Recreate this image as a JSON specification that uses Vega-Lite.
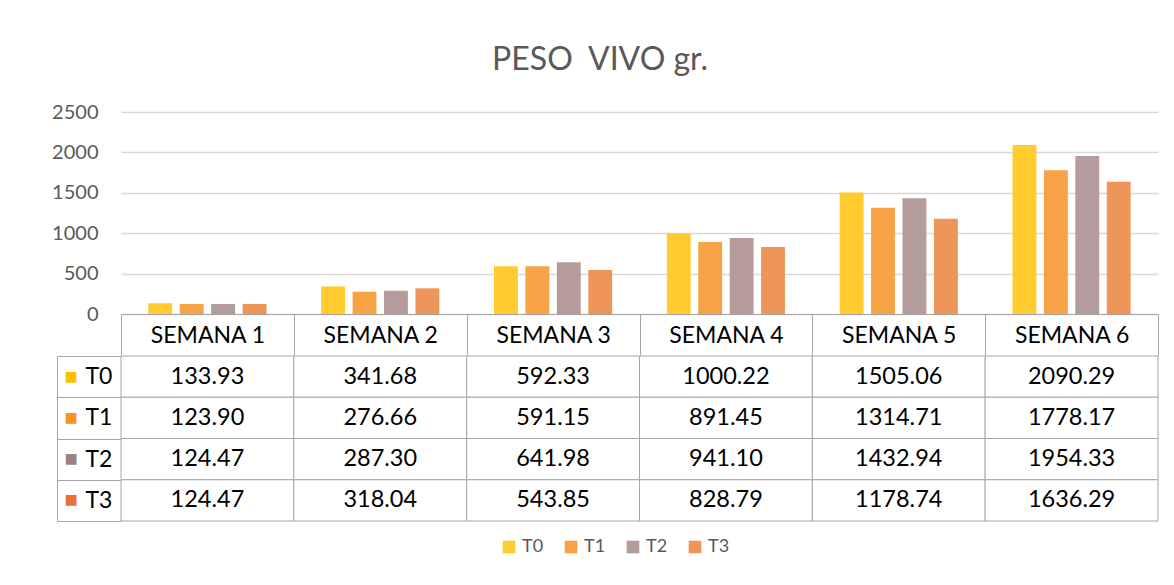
{
  "$schema": "https://vega.github.io/schema/vega-lite/v6.json",
  "padding": {"left": 51, "top": 44, "right": 17, "bottom": 10},
  "background": "white",
  "title": {"text": "PESO\u00a0 VIVO gr.", "fontSize": 32, "font": "Lato", "fontWeight": "normal", "color": "#595959", "anchor": "middle", "offset": 25, "dx": -5},
  "data": {"values": [
    {"semana": "SEMANA 1", "trat": "T0", "peso": 133.93},
    {"semana": "SEMANA 2", "trat": "T0", "peso": 341.68},
    {"semana": "SEMANA 3", "trat": "T0", "peso": 592.33},
    {"semana": "SEMANA 4", "trat": "T0", "peso": 1000.22},
    {"semana": "SEMANA 5", "trat": "T0", "peso": 1505.06},
    {"semana": "SEMANA 6", "trat": "T0", "peso": 2090.29},
    {"semana": "SEMANA 1", "trat": "T1", "peso": 123.90},
    {"semana": "SEMANA 2", "trat": "T1", "peso": 276.66},
    {"semana": "SEMANA 3", "trat": "T1", "peso": 591.15},
    {"semana": "SEMANA 4", "trat": "T1", "peso": 891.45},
    {"semana": "SEMANA 5", "trat": "T1", "peso": 1314.71},
    {"semana": "SEMANA 6", "trat": "T1", "peso": 1778.17},
    {"semana": "SEMANA 1", "trat": "T2", "peso": 124.47},
    {"semana": "SEMANA 2", "trat": "T2", "peso": 287.30},
    {"semana": "SEMANA 3", "trat": "T2", "peso": 641.98},
    {"semana": "SEMANA 4", "trat": "T2", "peso": 941.10},
    {"semana": "SEMANA 5", "trat": "T2", "peso": 1432.94},
    {"semana": "SEMANA 6", "trat": "T2", "peso": 1954.33},
    {"semana": "SEMANA 1", "trat": "T3", "peso": 124.47},
    {"semana": "SEMANA 2", "trat": "T3", "peso": 318.04},
    {"semana": "SEMANA 3", "trat": "T3", "peso": 543.85},
    {"semana": "SEMANA 4", "trat": "T3", "peso": 828.79},
    {"semana": "SEMANA 5", "trat": "T3", "peso": 1178.74},
    {"semana": "SEMANA 6", "trat": "T3", "peso": 1636.29}
  ]},
  "spacing": -12,
  "vconcat": [
    {
      "width": 1037,
      "height": 202,
      "mark": {"type": "bar"},
      "encoding": {
        "x": {
          "field": "semana", "type": "nominal",
          "scale": {"paddingInner": 0, "paddingOuter": 0},
          "axis": {"orient": "bottom", "title": null, "domainColor": "#a6a6a6", "tickColor": "#a6a6a6", "tickSize": 41, "tickBand": "extent", "labelFontSize": 23, "labelColor": "black", "labelPadding": -20, "labelBaseline": "middle", "labelAngle": 0}
        },
        "xOffset": {"field": "trat", "type": "nominal", "scale": {"paddingInner": 0.24, "paddingOuter": 0.87}},
        "y": {
          "field": "peso", "type": "quantitative",
          "scale": {"domain": [0, 2500]},
          "axis": {"title": null, "values": [0, 500, 1000, 1500, 2000, 2500], "format": "d", "domain": false, "ticks": false, "gridColor": "#d9d9d9", "gridWidth": 1.3, "labelFontSize": 20, "labelColor": "#595959", "labelPadding": 23}
        },
        "color": {
          "field": "trat", "type": "nominal",
          "scale": {"domain": ["T0", "T1", "T2", "T3"], "range": ["#FFCB2E", "#F8A246", "#B49C9C", "#EE965A"]},
          "legend": {"orient": "none", "legendX": 379, "legendY": 426, "direction": "horizontal", "title": null, "symbolType": "square", "symbolSize": 160, "labelFontSize": 18, "labelColor": "#595959", "columnPadding": 18, "symbolStrokeWidth": 0}
        }
      }
    },
    {
      "width": 1037,
      "height": 165,
      "encoding": {
        "x": {"field": "semana", "type": "nominal", "scale": {"paddingInner": 0, "paddingOuter": 0}, "axis": null}
      },
      "layer": [
        {
          "mark": {"type": "rect", "fill": "white", "stroke": "#a6a6a6", "strokeWidth": 1},
          "encoding": {
            "y": {
              "field": "trat", "type": "nominal",
              "scale": {"paddingInner": 0, "paddingOuter": 0},
              "axis": {"orient": "left", "title": null, "offset": 64, "tickSize": -64, "tickBand": "extent", "domainColor": "#a6a6a6", "tickColor": "#a6a6a6", "labelFontSize": 23, "labelColor": "black", "labelAlign": "left", "labelPadding": 36, "grid": false}
            }
          }
        },
        {
          "mark": {"type": "text", "fontSize": 23.5, "color": "black"},
          "encoding": {
            "y": {
              "field": "trat", "type": "nominal",
              "scale": {"paddingInner": 0, "paddingOuter": 0},
              "axis": {"orient": "left", "title": null, "offset": 64, "domain": false, "ticks": false, "grid": false, "labelExpr": "'■'", "labelFontSize": 22, "labelAlign": "left", "labelPadding": -7, "labelColor": {"condition": [{"test": "datum.value == 'T0'", "value": "#FFC000"}, {"test": "datum.value == 'T1'", "value": "#F7941D"}, {"test": "datum.value == 'T2'", "value": "#9E8282"}], "value": "#E97132"}}
            },
            "text": {"field": "peso", "type": "quantitative", "format": ".2f"}
          }
        }
      ],
      "resolve": {"axis": {"y": "independent"}}
    }
  ],
  "config": {"view": {"stroke": null}, "font": "Lato"}
}
